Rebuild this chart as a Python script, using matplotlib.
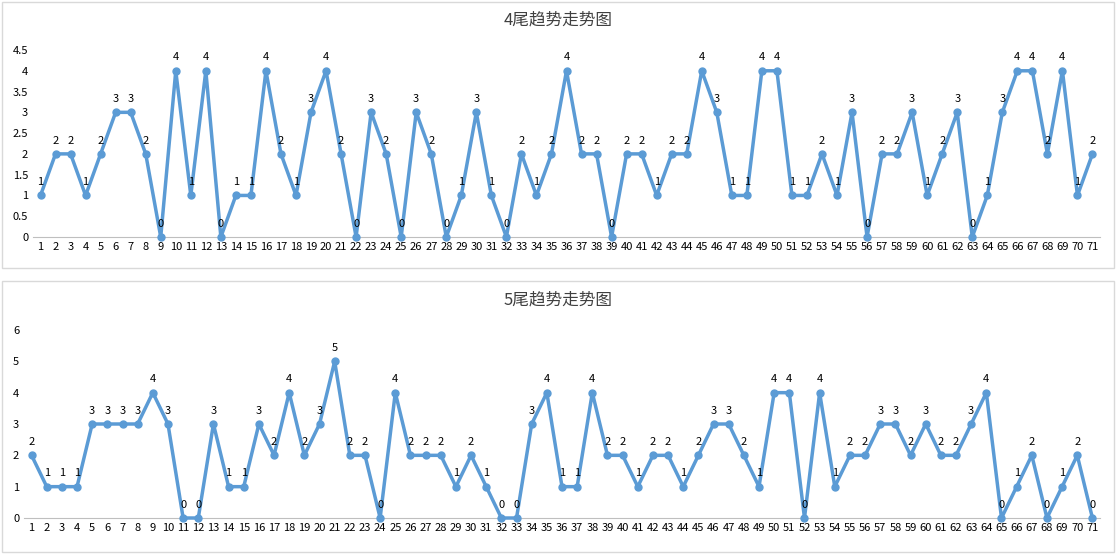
import matplotlib
matplotlib.use("Agg")
import matplotlib.pyplot as plt
from matplotlib.patches import Rectangle

plt.rcParams["font.family"] = ["Noto Sans CJK SC", "DejaVu Sans"]

top_vals = [1, 2, 2, 1, 2, 3, 3, 2, 0, 4, 1, 4, 0, 1, 1, 4, 2, 1, 3, 4, 2, 0, 3, 2, 0, 3, 2, 0, 1, 3,
            1, 0, 2, 1, 2, 4, 2, 2, 0, 2, 2, 1, 2, 2, 4, 3, 1, 1, 4, 4, 1, 1, 2, 1, 3, 0, 2, 2, 3, 1,
            2, 3, 0, 1, 3, 4, 4, 2, 4, 1, 2]
bot_vals = [2, 1, 1, 1, 3, 3, 3, 3, 4, 3, 0, 0, 3, 1, 1, 3, 2, 4, 2, 3, 5, 2, 2, 0, 4, 2, 2, 2, 1, 2,
            1, 0, 0, 3, 4, 1, 1, 4, 2, 2, 1, 2, 2, 1, 2, 3, 3, 2, 1, 4, 4, 0, 4, 1, 2, 2, 3, 3, 2, 3,
            2, 2, 3, 4, 0, 1, 2, 0, 1, 2, 0]
top_ticks = [0, 0.5, 1, 1.5, 2, 2.5, 3, 3.5, 4, 4.5]
bot_ticks = [0, 1, 2, 3, 4, 5, 6]
titles = ["4尾趋势走势图", "5尾趋势走势图"]

W, H = 1116, 554
fig = plt.figure(figsize=(W / 100, H / 100), dpi=100)
blue = "#5B9BD5"

# panel borders
for y0, y1 in [(2, 268), (281, 552)]:
    fig.patches.append(Rectangle((2 / W, 1 - y1 / H), (W - 4) / W, (y1 - y0) / H,
                                 transform=fig.transFigure, fill=False, ec="#D9D9D9", lw=1))

specs = [
    (top_vals, top_ticks, 4.5, 33, 1100, 50, 237, 20),
    (bot_vals, bot_ticks, 6, 24, 1100, 330, 518, 300),
]
for (vals, ticks, ymax, xl, xr, yt, yb, ty), title in zip(specs, titles):
    ax = fig.add_axes([xl / W, 1 - yb / H, (xr - xl) / W, (yb - yt) / H])
    x = list(range(1, len(vals) + 1))
    ax.plot(x, vals, color=blue, lw=2.5, marker="o", ms=5, zorder=3, clip_on=False)
    for xi, v in zip(x, vals):
        ax.annotate(str(v), (xi, v), xytext=(0, 6), textcoords="offset points",
                    ha="center", va="bottom", fontsize=8)
    ax.set_xlim(0.5, len(vals) + 0.5)
    ax.set_ylim(0, ymax)
    ax.set_yticks(ticks)
    ax.set_yticklabels([f"{t:g}" for t in ticks])
    ax.set_xticks(x)
    ax.tick_params(labelsize=8, length=0)
    for s in ["top", "right", "left"]:
        ax.spines[s].set_visible(False)
    ax.spines["bottom"].set_color("#BFBFBF")
    fig.text(0.5, 1 - ty / H, title, ha="center", va="center", fontsize=12, color="#404040")

fig.savefig("out.png", dpi=100)
